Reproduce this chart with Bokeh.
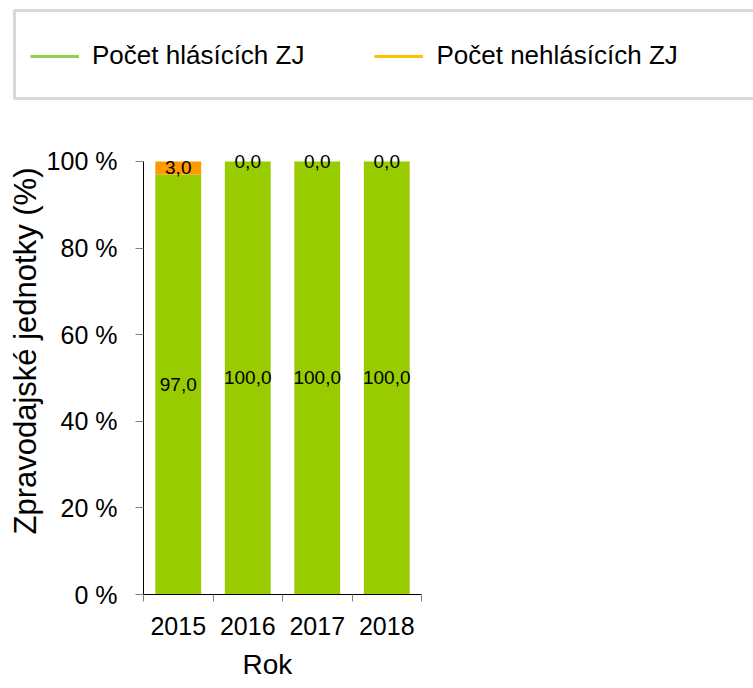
from bokeh.plotting import figure
from bokeh.layouts import column
from bokeh.models import (ColumnDataSource, Range1d, FixedTicker, Legend, LegendItem,
                          BoxAnnotation, Title)
from bokeh.core.properties import value
from bokeh.embed import file_html
from bokeh.resources import INLINE

# ---- data ----
years = ["2015", "2016", "2017", "2018"]
hlasici = [97.0, 100.0, 100.0, 100.0]
nehlasici = [3.0, 0.0, 0.0, 0.0]
y_ticks = [0, 20, 40, 60, 80, 100]
y_tick_labels = ["0 %", "20 %", "40 %", "60 %", "80 %", "100 %"]
series_names = ["Počet hlásících ZJ", "Počet nehlásících ZJ"]
x_title = "Rok"
y_title = "Zpravodajské jednotky (%)"

FONT = "Liberation Sans"
BAR_GREEN = "#99CC00"
BAR_ORANGE = "#FF9900"
LEG_GREEN = "#92D050"
LEG_ORANGE = "#FFC000"

W = 753
TOP_H = 110
MAIN_H = 578

xs = [i + 0.5 for i in range(len(years))]
fmt = lambda v: f"{v:.1f}".replace(".", ",")

src = ColumnDataSource(dict(
    x=xs, hl=hlasici, nehl=nehlasici,
    y_hl=[h / 2 for h in hlasici],
    y_nehl=[h + n / 2 for h, n in zip(hlasici, nehlasici)],
    t_hl=[fmt(v) for v in hlasici],
    t_nehl=[fmt(v) for v in nehlasici],
))

# ---------- legend figure (top) ----------
top = figure(width=W, height=TOP_H, output_backend="svg", toolbar_location=None,
             x_axis_location=None, y_axis_location=None,
             x_range=Range1d(0, 1), y_range=Range1d(0, 1),
             min_border=0, frame_align=False)
top.outline_line_color = None
top.xgrid.grid_line_color = None
top.ygrid.grid_line_color = None

nan = float("nan")
l1 = top.line(x=[nan], y=[nan], line_color=LEG_GREEN, line_width=3)
l2 = top.line(x=[nan], y=[nan], line_color=LEG_ORANGE, line_width=3)
legend = Legend(items=[LegendItem(label=series_names[0], renderers=[l1]),
                       LegendItem(label=series_names[1], renderers=[l2])],
                orientation="horizontal", location=(30, 39),
                padding=0, margin=0, spacing=70, glyph_width=49, glyph_height=30,
                label_height=30, label_standoff=13,
                label_text_font=FONT, label_text_font_size="26px",
                label_text_color="black",
                border_line_color=None, background_fill_alpha=0)
top.add_layout(legend, "center")

box = BoxAnnotation(left=14, right=900, top=100, bottom=12,
                    left_units="screen", right_units="screen",
                    top_units="screen", bottom_units="screen",
                    fill_alpha=0, line_color="#7F7F7F", line_width=3)
top.add_layout(box)

# ---------- main chart ----------
p = figure(width=W, height=MAIN_H, output_backend="svg", toolbar_location=None,
           x_range=Range1d(0, len(years)), y_range=Range1d(0, 103.9),
           min_border_left=143, min_border_right=332, min_border_top=34,
           min_border_bottom=91, frame_align=False)
p.outline_line_color = None
p.xgrid.grid_line_color = None
p.ygrid.grid_line_color = None

p.vbar_stack(["hl", "nehl"], x="x", width=0.66, color=[BAR_GREEN, BAR_ORANGE],
             line_color=None, source=src)

for ycol, tcol in (("y_hl", "t_hl"), ("y_nehl", "t_nehl")):
    p.text(x="x", y=ycol, text=tcol, source=src, text_align="center",
           text_baseline="middle", text_font=value(FONT), text_font_size="19px",
           text_color="black")

# y axis
ya = p.yaxis[0]
ya.bounds = (0, 100)
ya.ticker = FixedTicker(ticks=y_ticks)
ya.major_label_overrides = {t: l for t, l in zip(y_ticks, y_tick_labels)}
ya.axis_line_color = "black"
ya.major_tick_line_color = "#808080"
ya.major_tick_out = 8
ya.major_tick_in = 0
ya.minor_tick_line_color = None
ya.major_label_standoff = 18
ya.major_label_text_font = FONT
ya.major_label_text_font_size = "25px"
ya.major_label_text_color = "black"

# x axis
xa = p.xaxis[0]
xa.ticker = FixedTicker(ticks=xs, minor_ticks=list(range(len(years) + 1)))
xa.major_label_overrides = {x: y for x, y in zip(xs, years)}
xa.axis_line_color = "black"
xa.major_tick_line_color = None
xa.minor_tick_line_color = "#808080"
xa.minor_tick_out = 7
xa.minor_tick_in = 0
xa.major_tick_out = 7
xa.major_tick_in = 0
xa.major_label_standoff = 15
xa.major_label_text_font = FONT
xa.major_label_text_font_size = "25px"
xa.major_label_text_color = "black"

# axis titles as side-panel titles (positioned like the reference)
yt = Title(text=y_title, align="left", offset=60, standoff=2,
           text_font=FONT, text_font_size="31px", text_font_style="normal",
           text_color="black")
p.add_layout(yt, "left")
xt = Title(text=x_title, align="left", offset=99, standoff=18,
           text_font=FONT, text_font_size="28px", text_font_style="normal",
           text_color="black")
p.add_layout(xt, "below")

layout = column(top, p, spacing=0)
open("out.html", "w").write(file_html(layout, INLINE))
